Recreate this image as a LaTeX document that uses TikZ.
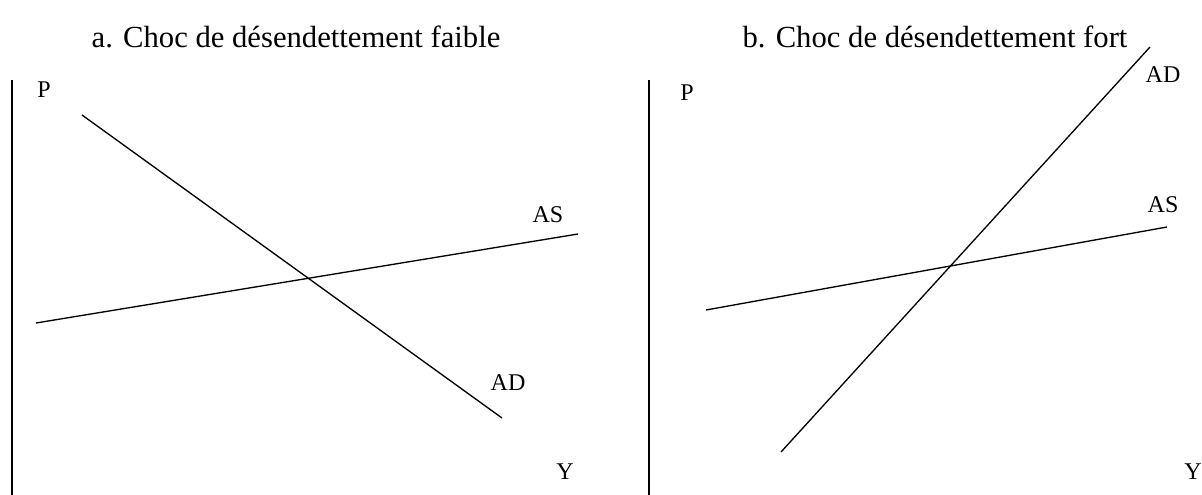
\documentclass[tikz,border=0pt]{standalone}
\usepackage{fontspec}
\setmainfont{Liberation Serif}
\usetikzlibrary{positioning}

\begin{document}
\begin{tikzpicture}[
        x=0.75pt, y=-0.75pt,
        % styles
        axis/.style={draw, line width=1.7pt},
        axisthin/.style={draw, line width=0.9pt},
        curve/.style={draw, line width=1pt},
        title/.style={font=\fontsize{23}{27}\selectfont},
        lbl/.style={font=\fontsize{18}{21}\selectfont, inner sep=0pt}
    ]
    \useasboundingbox (0,0) rectangle (1202,495);

    % --- a. left panel ---
    \node[title] (titleA) at (296,37) {a. Choc de désendettement faible};
    \coordinate (axA1) at (12,80);
    \coordinate (axA2) at (12,495);
    \draw[axis] (axA1) -- (axA2);
    \node[lbl] (pA) at (44,90) {P};
    \node[lbl] (yA) at (565,472) {Y};

    \coordinate (adA1) at (82,115);
    \coordinate (adA2) at (502,418);
    \draw[curve] (adA1) -- (adA2);
    \node[lbl] (adAlbl) at (508,383) {AD};

    \coordinate (asA1) at (36,323);
    \coordinate (asA2) at (578,234);
    \draw[curve] (asA1) -- (asA2);
    \node[lbl] (asAlbl) at (548,215) {AS};

    % --- b. right panel ---
    \node[title] (titleB) at (935,37) {b. Choc de désendettement fort};
    \coordinate (axB1) at (649,80);
    \coordinate (axB2) at (649,495);
    \draw[axisthin] (axB1) -- (axB2);
    \node[lbl] (pB) at (687,93) {P};
    \node[lbl] (yB) at (1193,472) {Y};

    \coordinate (adB1) at (781,452);
    \coordinate (adB2) at (1150,47);
    \draw[curve] (adB1) -- (adB2);
    \node[lbl] (adBlbl) at (1163,75) {AD};

    \coordinate (asB1) at (706,310);
    \coordinate (asB2) at (1167,227);
    \draw[curve] (asB1) -- (asB2);
    \node[lbl] (asBlbl) at (1163,205) {AS};

\end{tikzpicture}
\end{document}
